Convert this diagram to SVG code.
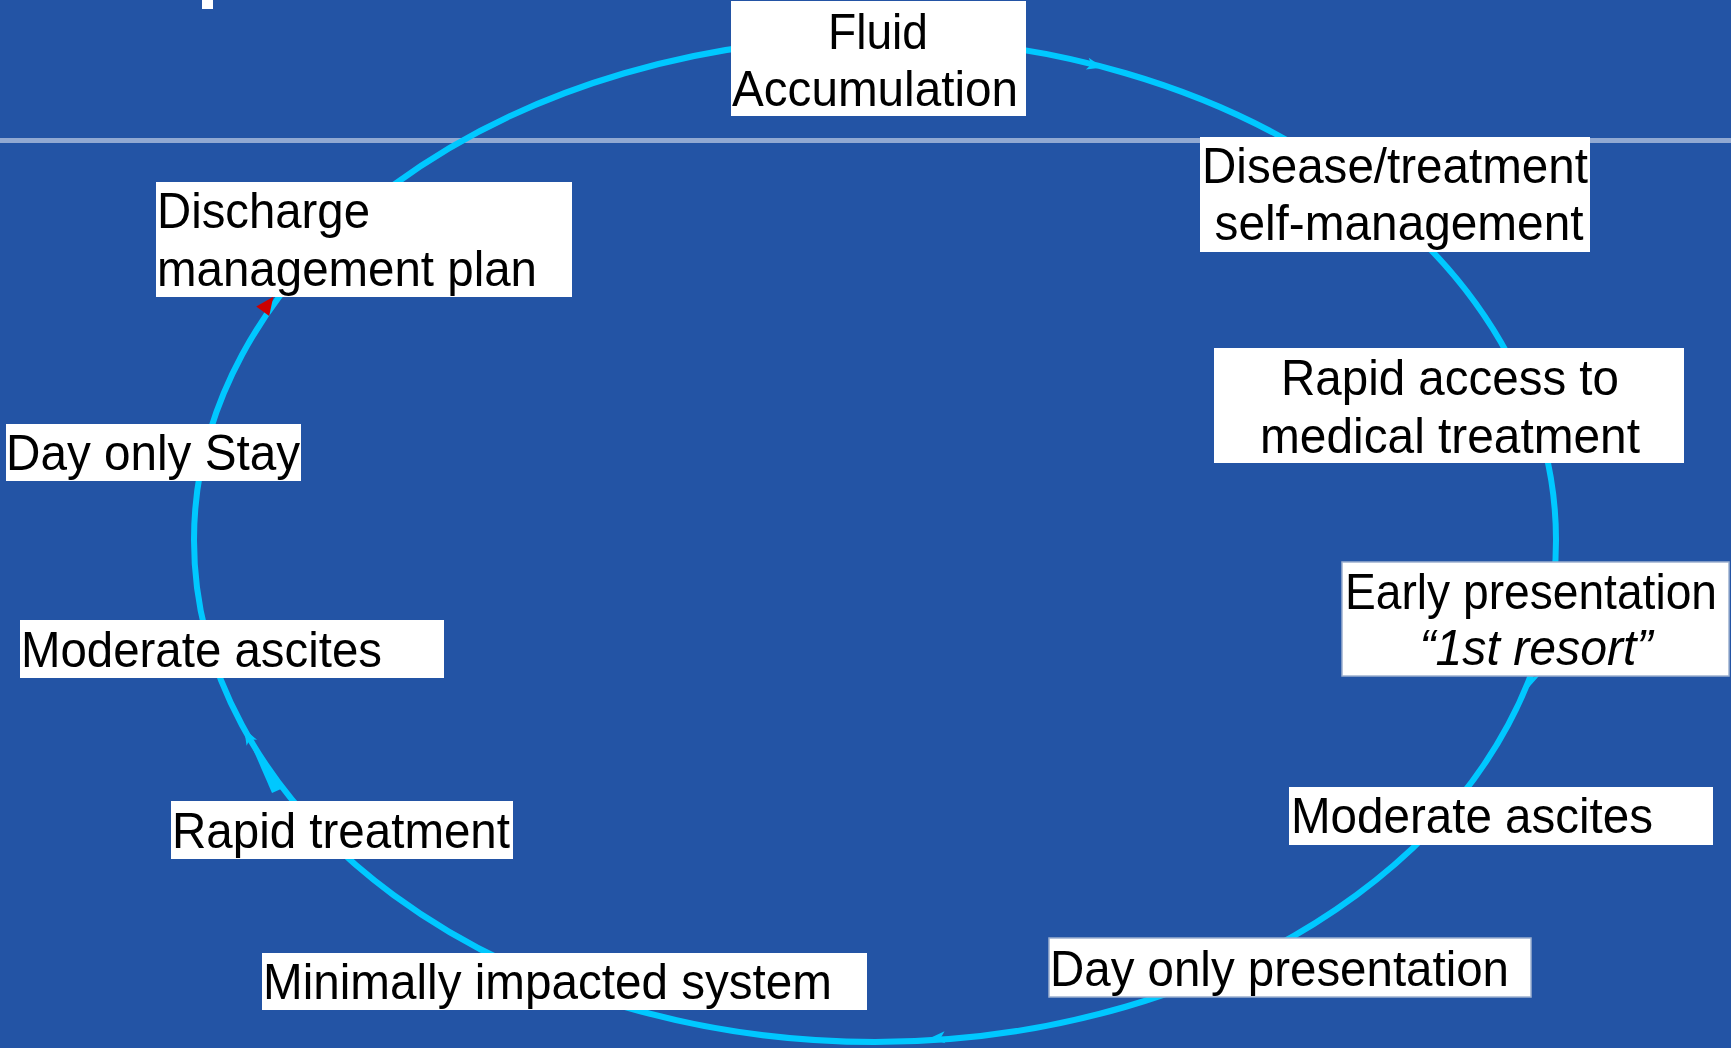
<svg xmlns="http://www.w3.org/2000/svg" xmlns:xlink="http://www.w3.org/1999/xlink" width="1731" height="1048" viewBox="0 0 1731 1048">
<style>
.box{fill:#FFFFFF;}
.bbox{fill:#FFFFFF;stroke:#9DB0CF;stroke-width:1.5;}
.t{font-family:"Liberation Sans",Arial,sans-serif;font-size:50px;fill:#000000;}
.c{text-anchor:middle;}
.i{font-style:italic;}
.cycle{fill:none;stroke:#00C8FF;stroke-width:6;}
</style>
<defs>
<path id="ah" d="M6,0 L-10,-6 L-6,0 L-10,6 Z" fill="#00C8FF"/>
<path id="ahr" d="M9,0 L-9,-8 L-9,8 Z" fill="#CC0000"/>
</defs>
<rect x="0" y="0" width="1731" height="1048" fill="#2354A5"/>
<rect x="202" y="0" width="11" height="9" fill="#FFFFFF"/>
<rect x="0" y="138" width="1731" height="5" fill="#91A9D2"/>
<g id="connectors">
<ellipse class="cycle" cx="875" cy="540" rx="681" ry="502"/>
<use xlink:href="#ah" transform="translate(1097,66) rotate(14)"/>
<use xlink:href="#ah" transform="translate(1530,683) rotate(111)"/>
<use xlink:href="#ah" transform="translate(935,1038) rotate(176)"/>
<use xlink:href="#ah" transform="translate(247,734) rotate(-119)"/>
<path d="M249,740 L272,793 L281,789 Z" fill="#00C8FF"/>
<use xlink:href="#ahr" transform="translate(268,304) rotate(-54)"/>
</g>
<g id="n-fluid">
<rect class="box" x="731" y="1" width="295" height="115"/>
<text class="t c" x="878" y="49" textLength="100" lengthAdjust="spacingAndGlyphs">Fluid</text>
<text class="t c" x="875" y="106" textLength="286" lengthAdjust="spacingAndGlyphs">Accumulation</text>
</g>
<g id="n-disease">
<rect class="box" x="1200" y="137" width="390" height="115"/>
<text class="t c" x="1395" y="183" textLength="386" lengthAdjust="spacingAndGlyphs">Disease/treatment</text>
<text class="t c" x="1399" y="240" textLength="369" lengthAdjust="spacingAndGlyphs">self-management</text>
</g>
<g id="n-rapid-access">
<rect class="box" x="1214" y="348" width="470" height="115"/>
<text class="t c" x="1450" y="395" textLength="338" lengthAdjust="spacingAndGlyphs">Rapid access to</text>
<text class="t c" x="1450" y="453" textLength="380" lengthAdjust="spacingAndGlyphs">medical treatment</text>
</g>
<g id="n-early">
<rect class="bbox" x="1342" y="562" width="387" height="114"/>
<text class="t" x="1345" y="609" textLength="372" lengthAdjust="spacingAndGlyphs">Early presentation</text>
<text class="t c i" x="1536" y="665" textLength="233" lengthAdjust="spacingAndGlyphs">“1st resort”</text>
</g>
<g id="n-moderate-right">
<rect class="box" x="1289" y="787" width="424" height="58"/>
<text class="t" x="1291" y="833" textLength="362" lengthAdjust="spacingAndGlyphs">Moderate ascites</text>
</g>
<g id="n-day-presentation">
<rect class="bbox" x="1049" y="938" width="482" height="59"/>
<text class="t" x="1050" y="986" textLength="459" lengthAdjust="spacingAndGlyphs">Day only presentation</text>
</g>
<g id="n-minimally">
<rect class="box" x="262" y="953" width="605" height="57"/>
<text class="t" x="263" y="999" textLength="569" lengthAdjust="spacingAndGlyphs">Minimally impacted system</text>
</g>
<g id="n-rapid-treatment">
<rect class="box" x="171" y="801" width="342" height="58"/>
<text class="t" x="172" y="848" textLength="338" lengthAdjust="spacingAndGlyphs">Rapid treatment</text>
</g>
<g id="n-moderate-left">
<rect class="box" x="20" y="620" width="424" height="58"/>
<text class="t" x="21" y="667" textLength="361" lengthAdjust="spacingAndGlyphs">Moderate ascites</text>
</g>
<g id="n-day-stay">
<rect class="box" x="6" y="424" width="295" height="57"/>
<text class="t" x="6" y="470" textLength="294" lengthAdjust="spacingAndGlyphs">Day only Stay</text>
</g>
<g id="n-discharge">
<rect class="box" x="156" y="182" width="416" height="115"/>
<text class="t" x="157" y="228" textLength="213" lengthAdjust="spacingAndGlyphs">Discharge</text>
<text class="t" x="157" y="286" textLength="380" lengthAdjust="spacingAndGlyphs">management plan</text>
</g>
</svg>
